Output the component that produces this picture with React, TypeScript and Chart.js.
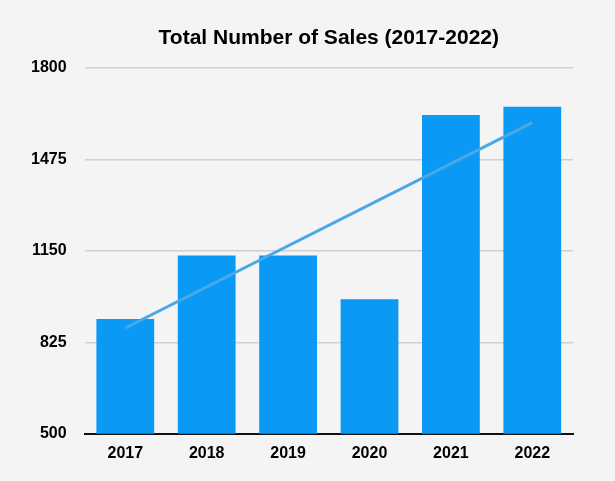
import React, { useEffect, useRef } from "react";
import { Chart, registerables } from "chart.js";

Chart.register(...registerables);

const titleText = "Total Number of Sales (2017-2022)";
const years = ["2017", "2018", "2019", "2020", "2021", "2022"];
const sales = [908, 1134, 1134, 978, 1633, 1662];
const trend = [876, null, null, null, null, 1606];
const yTicks = [500, 825, 1150, 1475, 1800];

const centeredTitle = {
  id: "centeredTitle",
  afterDraw(chart: any) {
    const { ctx, chartArea } = chart;
    ctx.save();
    ctx.fillStyle = "#000";
    ctx.font = "bold 21px 'Liberation Sans'";
    ctx.textAlign = "center";
    ctx.textBaseline = "middle";
    ctx.fillText(titleText, (chartArea.left + chartArea.right) / 2, 38);
    ctx.restore();
  },
};

export default function App() {
  const ref = useRef<HTMLCanvasElement | null>(null);
  useEffect(() => {
    document.body.style.margin = "0";
    document.body.style.background = "#f4f4f4";
    const ctx = ref.current!;
    const chart = new Chart(ctx, {
      type: "bar",
      data: {
        labels: years,
        datasets: [
          {
            type: "line",
            data: trend,
            borderColor: "#4aa8e6",
            borderWidth: 3,
            pointRadius: 0,
            spanGaps: true,
            order: 0,
          } as any,
          {
            type: "bar",
            data: sales,
            backgroundColor: "#0b99f6",
            categoryPercentage: 1,
            barPercentage: 0.71,
            order: 1,
          },
        ],
      },
      options: {
        animation: false,
        responsive: false,
        layout: { padding: { top: 68, right: 42, bottom: 8, left: 13 } },
        plugins: {
          legend: { display: false },
          tooltip: { enabled: false },
          title: { display: false },
        },
        scales: {
          x: {
            grid: { display: false, drawTicks: false },
            border: { display: true, color: "#111", width: 2 },
            ticks: {
              color: "#000",
              font: { family: "Liberation Sans", size: 16, weight: "bold" },
              padding: 10,
            },
          },
          y: {
            min: 500,
            max: 1800,
            afterBuildTicks: (axis: any) => {
              axis.ticks = yTicks.map((v) => ({ value: v }));
            },
            grid: {
              drawTicks: false,
              color: (c: any) => (c.tick && c.tick.value === 500 ? "rgba(0,0,0,0)" : "#cfcfcf"),
              lineWidth: 1.5,
            },
            border: { display: false },
            ticks: {
              color: "#000",
              font: { family: "Liberation Sans", size: 16, weight: "bold" },
              padding: 18,
              callback: (v: any) => String(v),
            },
          },
        },
      },
      plugins: [centeredTitle],
    });
    return () => chart.destroy();
  }, []);
  return (
    <div style={{ width: 615, height: 481, background: "#f4f4f4" }}>
      <canvas ref={ref} width={615} height={481} />
    </div>
  );
}
